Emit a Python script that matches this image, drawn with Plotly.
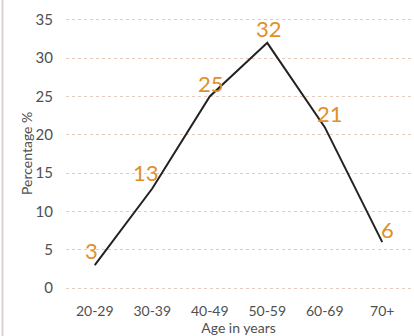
import plotly.graph_objects as go

age_groups = ["20-29", "30-39", "40-49", "50-59", "60-69", "70+"]
percentages = [3, 13, 25, 32, 21, 6]
# pixel offsets of each value label relative to its point
label_dx = [-3, -6, 1, 2, 5, 5]
label_dy = [15, 16, 13, 14, 14, 13]

W, H = 414, 336
ml, mr, mt, mb = 66, 3, 16, 44
pw = W - ml - mr

fig = go.Figure()
fig.add_trace(go.Scatter(
    x=age_groups, y=percentages,
    mode="lines",
    line=dict(color="#222222", width=2),
    cliponaxis=False,
    hoverinfo="skip",
))

for cat, val, dx, dy in zip(age_groups, percentages, label_dx, label_dy):
    fig.add_annotation(
        x=cat, y=val, text=str(val), showarrow=False,
        xanchor="center", yanchor="middle", xshift=dx, yshift=dy,
        font=dict(family="Lato", size=22, color="#E08F2A"),
    )

# y axis title placed as rotated text
fig.add_annotation(
    xref="paper", yref="paper", x=-(ml - 26) / pw, y=0.5,
    text="Percentage %", textangle=-90, showarrow=False,
    xanchor="center", yanchor="middle",
    font=dict(family="Lato", size=14, color="#505050"),
)

fig.update_layout(
    width=W, height=H,
    margin=dict(l=ml, r=mr, t=mt, b=mb, autoexpand=False),
    paper_bgcolor="white", plot_bgcolor="white",
    showlegend=False,
    font=dict(family="Lato", color="#505050"),
    xaxis=dict(
        type="category", range=[-0.5, 5.5], automargin=False,
        showgrid=False, zeroline=False, showline=False,
        ticks="outside", ticklen=6, tickcolor="rgba(0,0,0,0)",
        tickfont=dict(family="Lato", size=14, color="#505050"),
        title=dict(text="Age in years", font=dict(family="Lato", size=14, color="#505050"), standoff=2),
    ),
    yaxis=dict(
        range=[-0.5, 35.5], tickvals=[0, 5, 10, 15, 20, 25, 30, 35], automargin=False,
        showgrid=True, gridcolor="#e3cbbd", griddash="dot", gridwidth=1,
        zeroline=False, showline=False,
        ticks="outside", ticklen=9, tickcolor="rgba(0,0,0,0)",
        tickfont=dict(family="Lato", size=15, color="#505050"),
    ),
)

# light border at the left edge of the card
fig.add_shape(type="line", xref="paper", yref="paper",
              x0=-(ml - 2.5) / pw, x1=-(ml - 2.5) / pw, y0=-2, y1=2,
              line=dict(color="#d9d2cf", width=2))

fig.write_html("out.html", config={"displayModeBar": False},
               post_script="document.body.style.margin='0';document.body.style.overflow='hidden';")
